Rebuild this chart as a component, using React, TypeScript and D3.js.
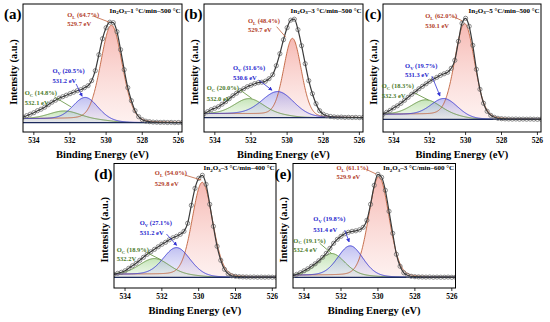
import React from "react";
import * as d3 from "d3";

// binding energy grid of the measured points (eV)
const energies = [
  534.6, 534.4, 534.2, 534.0, 533.8, 533.6, 533.4, 533.2, 533.0, 532.8, 532.6, 532.4, 532.2, 532.0, 531.8,
  531.6, 531.4, 531.2, 531.0, 530.8, 530.6, 530.4, 530.2, 530.0, 529.8, 529.6, 529.4, 529.2, 529.0, 528.8,
  528.6, 528.4, 528.2, 528.0, 527.8, 527.6, 527.4, 527.2, 527.0, 526.8, 526.6, 526.4, 526.2, 526.0, 525.8,
];

// measured O 1s intensities (a.u.), one list per sample
const intensityA = [
  5.5, 7, 8.5, 10, 12, 13.5, 15.5, 18, 20.5, 22.5, 24.5, 26, 27.5, 29, 30.5,
  32, 33, 35, 37, 42, 52, 68, 84, 95, 100.5, 100, 91, 73, 53, 35,
  22, 12, 6, 3, 1.5, 1, 0.6, 0.5, 0.3, 0.4, 0.2, 0.3, 0.1, 0.2, 0.1,
];
const intensityB = [
  4, 6, 8, 9.5, 11, 13.5, 16, 19, 22, 24.5, 27, 29, 31, 32.5, 34,
  35, 35.5, 36.5, 39, 43, 52, 64, 78, 90, 97.5, 98.5, 88, 72, 54, 37,
  24, 14, 7, 3.5, 2, 1.2, 0.8, 0.5, 0.6, 0.3, 0.4, 0.2, 0.3, 0.1, 0.2,
];
const intensityC = [
  5, 7, 9, 11.5, 13.5, 16, 19, 22, 25, 27.5, 30.5, 33, 35.5, 38, 40,
  42, 44, 45.5, 47, 51, 59, 78, 96, 101, 93, 74, 50, 30, 16, 8,
  4, 2, 1, 0.6, 0.4, 0.3, 0.2, 0.3, 0.1, 0.2, 0.1, 0.2, 0.1, 0, 0.1,
];
const intensityD = [
  3, 4, 5, 6.5, 9, 11.5, 14, 17, 20, 23, 25.5, 28, 30.5, 33, 35,
  37.5, 39.5, 41, 43, 46, 54, 72, 89, 99, 102, 93, 73, 51, 31, 17,
  8, 3.5, 1.5, 1, 0.6, 0.4, 0.3, 0.2, 0.3, 0.1, 0.2, 0.1, 0.2, 0.1, 0,
];
const intensityE = [
  1.5, 3, 4.5, 6.5, 8.5, 11, 13.5, 16.5, 20, 24, 29, 34, 38, 41, 43.5,
  45, 46, 46.5, 47.5, 50, 57, 73, 92, 103, 100, 87, 66, 44, 23, 11,
  4.5, 2, 1, 0.6, 0.4, 0.3, 0.2, 0.3, 0.1, 0.2, 0.1, 0.1, 0.2, 0, 0.1,
];
const intensities = [intensityA, intensityB, intensityC, intensityD, intensityE];

const panelTags = ["(a)", "(b)", "(c)", "(d)", "(e)"];
const rates = ["1", "3", "5", "3", "3"];
const temps = ["500", "500", "500", "400", "600"];

// fitted components: lattice O (O_L), vacancy O (O_V), chemisorbed O (O_C)
const centersL = [529.7, 529.7, 530.05, 529.8, 529.95];
const heightsL = [96, 78, 94, 94, 100];
const fwhmL = [1.4, 1.15, 1.3, 1.3, 1.3];
const centersV = [531.15, 530.5, 531.2, 531.2, 531.5];
const heightsV = [22, 23.5, 17, 27.5, 30];
const fwhmV = [1.6, 2.1, 1.7, 1.7, 1.6];
const centersC = [532.3, 532.1, 532.2, 532.4, 532.5];
const heightsC = [8, 15.5, 15, 16, 22];
const fwhmC = [2.0, 1.9, 1.9, 1.9, 1.7];
const bgStep = [4, 4, 5, 3, 2];

const sharesL = ["64.7", "48.4", "62.0", "54.0", "61.1"];
const sharesV = ["20.5", "31.6", "19.7", "27.1", "19.8"];
const sharesC = ["14.8", "20.0", "18.3", "18.9", "19.1"];
const posL = ["529.7 eV", "529.7 eV", "530.1 eV", "529.8 eV", "529.9 eV"];
const posV = ["531.2 eV", "530.6 eV", "531.3 eV", "531.2 eV", "531.4 eV"];
const posC = ["532.1 eV", "532.0 eV", "532.3 eV", "532.2V", "532.4 eV"];

const xTicks = [534, 532, 530, 528, 526];

// ---- layout (pixels) ----
const frames = [
  { x: 23, y: 4, w: 159, h: 128, yMin: -9.3, yMax: 118.7, titleDy: 8.5 },
  { x: 204, y: 4, w: 159, h: 128, yMin: -14.3, yMax: 113.7, titleDy: 8.5 },
  { x: 383, y: 4, w: 158, h: 128, yMin: -12.7, yMax: 115.3, titleDy: 8.5 },
  { x: 114, y: 163.5, w: 162, h: 124.5, yMin: -10.7, yMax: 113.8, titleDy: 6.5 },
  { x: 293, y: 163.5, w: 162.5, h: 124.5, yMin: -10.7, yMax: 113.8, titleDy: 6.5 },
];

// annotation anchors in data units: [textX, line1Y, line2Y, fromX, fromY, toX, toY]
const notesL = [
  [532.15, 108, 99, 530.72, 106.7, 529.85, 100.7],
  [532.17, 96.7, 87.7, 530.58, 91, 530.07, 80.4],
  [532.25, 103.3, 93.8, 530.67, 102.6, 530.2, 98.6],
  [532.38, 104.3, 94, 530.76, 102.3, 529.86, 97.3],
  [532.25, 109.3, 100.6, 530.64, 108, 530.1, 103.3],
];
const notesV = [
  [532.97, 51.7, 41.7, 531.66, 38.7, 531.33, 26.5],
  [533.0, 49.7, 40.2, 531.57, 37.7, 530.84, 27.5],
  [533.37, 53.3, 44.3, 531.88, 43.3, 531.43, 23.5],
  [533.2, 54.3, 44.8, 531.75, 43.3, 531.2, 32],
  [533.5, 58.3, 48, 531.8, 47.3, 531.56, 35.5],
];
const notesC = [
  [534.5, 29.7, 19.7, 532.86, 25.7, 531.93, 15.7],
  [534.45, 29.7, 19.2, 532.6, 27.7, 531.96, 19.4],
  [534.67, 33.3, 23.3, 532.81, 26, 532.07, 19.3],
  [534.45, 27.6, 18.3, 532.75, 24, 532.02, 17.3],
  [534.58, 37, 27.3, 533.15, 34, 532.52, 24],
];

const FONT = "'Times New Roman', 'Liberation Serif', serif";
const colL = "#c0603a";
const colV = "#3434d2";
const colC = "#5f8f3a";
const txtL = "#b23c28";
const txtV = "#2525cc";
const txtC = "#4b7a2a";

const peakAt = (c: number, h: number, w: number, e: number) => {
  const t = (e - c) / w;
  return h * (0.85 * Math.exp(-4 * Math.LN2 * t * t) + 0.15 / (1 + 4 * t * t));
};

function CompNote({ sub, share, pos, note, color, lineColor, x, y, arrow }: any) {
  const [tx, y1, y2, fx, fy, ex, ey] = note;
  return (
    <g fontFamily={FONT} fontWeight="bold" fill={color}>
      <text x={x(tx)} y={y(y1) + 2.2} fontSize={6.5}>
        O<tspan dy={1.6} fontSize={4.6}>{sub}</tspan>
        <tspan dy={-1.6}>{` (${share}%)`}</tspan>
      </text>
      <text x={x(tx)} y={y(y2) + 2.2} fontSize={6.5}>{pos}</text>
      <line x1={x(fx)} y1={y(fy)} x2={x(ex)} y2={y(ey)} stroke={lineColor} strokeWidth={0.8}
        markerEnd={arrow ? "url(#arrV)" : undefined} />
    </g>
  );
}

function Panel({ i }: { i: number }) {
  const f = frames[i];
  const x = d3.scaleLinear().domain([534.6, 525.8]).range([f.x, f.x + f.w]);
  const y = d3.scaleLinear().domain([f.yMin, f.yMax]).range([f.y + f.h, f.y]);

  const comps = [
    [centersL[i], heightsL[i], fwhmL[i]],
    [centersV[i], heightsV[i], fwhmV[i]],
    [centersC[i], heightsC[i], fwhmC[i]],
  ];
  // Shirley-type background from the fitted peaks
  const grid = d3.range(0, 441).map((k) => 525.8 + k * 0.02);
  const sums = grid.map((e) => d3.sum(comps, (p) => peakAt(p[0], p[1], p[2], e)));
  const cum = Array.from(d3.cumsum(sums));
  const total = cum[cum.length - 1];
  const bg = cum.map((c) => (bgStep[i] * c) / total);

  const compArea = (p: number[]) =>
    d3.area<number>()
      .x((k) => x(grid[k]))
      .y0(y(0))
      .y1((k) => y(bg[k] + peakAt(p[0], p[1], p[2], grid[k])))(d3.range(grid.length));
  const compLine = (p: number[]) =>
    d3.line<number>()
      .x((k) => x(grid[k]))
      .y((k) => y(bg[k] + peakAt(p[0], p[1], p[2], grid[k])))(d3.range(grid.length));

  const data = intensities[i];
  const envelope = d3.line<number>()
    .x((k) => x(energies[k]))
    .y((k) => y(data[k]))
    .curve(d3.curveMonotoneX)(d3.range(energies.length));

  const clipId = `clip${i}`;
  const bottom = f.y + f.h;
  const cx = f.x + f.w / 2;

  return (
    <g>
      <clipPath id={clipId}>
        <rect x={f.x} y={f.y} width={f.w} height={f.h} />
      </clipPath>
      <g clipPath={`url(#${clipId})`}>
        <path d={compArea(comps[0]) || ""} fill="url(#gL)" />
        <path d={compArea(comps[2]) || ""} fill="url(#gC)" />
        <path d={compArea(comps[1]) || ""} fill="url(#gV)" />
        <path d={compLine(comps[0]) || ""} fill="none" stroke={colL} strokeWidth={0.9} />
        <path d={compLine(comps[2]) || ""} fill="none" stroke={colC} strokeWidth={0.9} />
        <path d={compLine(comps[1]) || ""} fill="none" stroke={colV} strokeWidth={0.9} />
        <line x1={f.x} x2={f.x + f.w} y1={y(0)} y2={y(0)} stroke="#1c2a5c" strokeWidth={1.3} />
        {energies.map((e, k) => (
          <circle key={k} cx={x(e)} cy={y(data[k])} r={2.1} fill="none" stroke="#6e6e6e" strokeWidth={0.8} />
        ))}
        <path d={envelope || ""} fill="none" stroke="#3a3a3a" strokeWidth={1.2} />
      </g>
      <rect x={f.x} y={f.y} width={f.w} height={f.h} fill="none" stroke="#000" strokeWidth={1} />

      {xTicks.map((t) => (
        <g key={t}>
          <line x1={x(t)} x2={x(t)} y1={bottom} y2={bottom + 3} stroke="#000" strokeWidth={0.8} />
          <text x={x(t)} y={bottom + 10.5} textAnchor="middle" fontFamily={FONT} fontWeight="bold" fontSize={7.5}>
            {t}
          </text>
        </g>
      ))}
      <text x={cx} y={bottom + 26} textAnchor="middle" fontFamily={FONT} fontWeight="bold" fontSize={10.5}>
        Binding Energy (eV)
      </text>
      <text
        transform={`translate(${f.x - 10}, ${f.y + f.h / 2 + 4}) rotate(-90)`}
        textAnchor="middle" dominantBaseline="central"
        fontFamily={FONT} fontWeight="bold" fontSize={10.5}
      >
        Intensity (a.u.)
      </text>
      <text x={f.x - 1.5} y={f.y + 15} textAnchor="end" fontFamily={FONT} fontWeight="bold" fontSize={15}>
        {panelTags[i]}
      </text>
      <text x={f.x + f.w - 1.5} y={f.y + f.titleDy} textAnchor="end" fontFamily={FONT} fontWeight="bold" fontSize={7}>
        In<tspan dy={1.6} fontSize={5}>2</tspan>
        <tspan dy={-1.6}>O</tspan>
        <tspan dy={1.6} fontSize={5}>3</tspan>
        <tspan dy={-1.6}>{`–${rates[i]} °C/min–${temps[i]} °C`}</tspan>
      </text>

      <CompNote sub="L" share={sharesL[i]} pos={posL[i]} note={notesL[i]} color={txtL} lineColor={colL} x={x} y={y} />
      <CompNote sub="V" share={sharesV[i]} pos={posV[i]} note={notesV[i]} color={txtV} lineColor={colV} x={x} y={y} arrow />
      <CompNote sub="C" share={sharesC[i]} pos={posC[i]} note={notesC[i]} color={txtC} lineColor={colC} x={x} y={y} />
    </g>
  );
}

export default function App() {
  return (
    <svg width={550} height={322} style={{ position: "absolute", left: 0, top: 0, background: "#fff" }}>
      <defs>
        <linearGradient id="gL" x1="0" y1="0" x2="0" y2="1">
          <stop offset="0%" stopColor="#f08a80" stopOpacity={0.6} />
          <stop offset="100%" stopColor="#fbd6d2" stopOpacity={0.35} />
        </linearGradient>
        <linearGradient id="gV" x1="0" y1="0" x2="0" y2="1">
          <stop offset="0%" stopColor="#8c8ce6" stopOpacity={0.55} />
          <stop offset="100%" stopColor="#d8d8f6" stopOpacity={0.35} />
        </linearGradient>
        <linearGradient id="gC" x1="0" y1="0" x2="0" y2="1">
          <stop offset="0%" stopColor="#9fd38a" stopOpacity={0.6} />
          <stop offset="100%" stopColor="#dcf0d2" stopOpacity={0.4} />
        </linearGradient>
        <marker id="arrV" viewBox="0 0 6 6" refX="5" refY="3" markerWidth="5" markerHeight="5" orient="auto">
          <path d="M0,0 L6,3 L0,6 Z" fill={colV} />
        </marker>
      </defs>
      {frames.map((_, i) => (
        <Panel key={i} i={i} />
      ))}
    </svg>
  );
}
